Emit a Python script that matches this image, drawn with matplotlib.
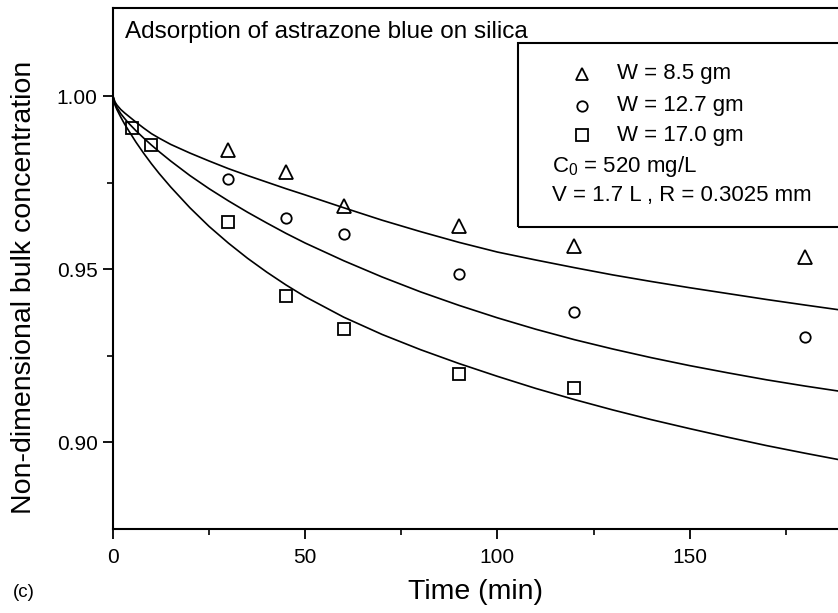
import matplotlib
matplotlib.use("Agg")
import matplotlib.pyplot as plt
from matplotlib.patches import Rectangle

plt.rcParams["font.family"] = ["Liberation Sans", "DejaVu Sans"]
plt.rcParams["mathtext.fontset"] = "custom"
plt.rcParams["mathtext.rm"] = "Liberation Sans"

# ── measured points ─────────────────────────────────────────────────────────
t_tri = [30, 45, 60, 90, 120, 180]
c_tri = [0.9844, 0.9780, 0.9682, 0.9625, 0.9568, 0.9536]

t_circ = [30, 45, 60, 90, 120, 180]
c_circ = [0.9761, 0.9648, 0.9602, 0.9487, 0.9377, 0.9305]

t_sq = [5, 10, 30, 45, 60, 90, 120]
c_sq = [0.9908, 0.9859, 0.9637, 0.9423, 0.9328, 0.9198, 0.9158]

# ── model curves ───────────────────────────────────────────────────────────
t_fit = [0, 0.5, 1, 2, 3, 4, 6, 8, 10, 12, 15, 20, 25, 30, 35, 40, 45, 50,
         60, 70, 80, 90, 100, 110, 120, 130, 140, 150, 160, 170, 180, 189]
fit_85 = [1.0, 0.9984, 0.9975, 0.9962, 0.9952, 0.9943, 0.9925, 0.9908,
          0.9892, 0.9879, 0.9861, 0.9836, 0.9813, 0.9791, 0.9771, 0.9752,
          0.9733, 0.9715, 0.9678, 0.9642, 0.9609, 0.9578, 0.9550, 0.9527,
          0.9505, 0.9484, 0.9465, 0.9447, 0.9430, 0.9413, 0.9397, 0.9383]
fit_127 = [1.0, 0.9980, 0.9968, 0.9950, 0.9936, 0.9923, 0.9900, 0.9879,
           0.9859, 0.9840, 0.9813, 0.9771, 0.9733, 0.9698, 0.9665, 0.9634,
           0.9604, 0.9576, 0.9525, 0.9478, 0.9435, 0.9396, 0.9360, 0.9327,
           0.9297, 0.9270, 0.9245, 0.9222, 0.9201, 0.9181, 0.9163, 0.9148]
fit_170 = [1.0, 0.9975, 0.9962, 0.9940, 0.9920, 0.9902, 0.9867, 0.9835,
           0.9805, 0.9777, 0.9738, 0.9678, 0.9624, 0.9576, 0.9532, 0.9492,
           0.9455, 0.9421, 0.9362, 0.9312, 0.9268, 0.9228, 0.9191, 0.9156,
           0.9124, 0.9094, 0.9066, 0.9040, 0.9015, 0.8991, 0.8969, 0.8950]

labels = ["W = 8.5 gm", "W = 12.7 gm", "W = 17.0 gm"]

fig = plt.figure(figsize=(8.38, 6.13), dpi=100)
fig.patch.set_facecolor("white")
ax = fig.add_axes([113 / 838, 0.137, 1 - 113 / 838, 0.850])

mk = dict(ls="none", mfc="none", mec="black", mew=1.3, zorder=3)
ax.plot(t_tri, c_tri, marker="^", ms=9.5, **mk)
ax.plot(t_circ, c_circ, marker="o", ms=7.5, **mk)
ax.plot(t_sq, c_sq, marker="s", ms=8.5, **mk)

for f in (fit_85, fit_127, fit_170):
    ax.plot(t_fit, f, color="black", lw=1.2, zorder=2)

ax.set_xlim(0, 188.6)
ax.set_ylim(0.875, 1.0255)
ax.set_xticks([0, 50, 100, 150])
ax.set_xticks([25, 75, 125, 175], minor=True)
ax.set_yticks([0.90, 0.95, 1.00])
ax.set_yticks([0.925, 0.975], minor=True)
ax.set_yticklabels(["0.90", "0.95", "1.00"])

for s in ax.spines.values():
    s.set_linewidth(1.5)
ax.spines["right"].set_visible(False)
ax.tick_params(which="major", length=7, width=1.3, labelsize=15, direction="out")
ax.tick_params(which="minor", length=4, width=1.2, direction="out")
ax.tick_params(axis="x", pad=7)
ax.tick_params(axis="y", pad=4)
ax.tick_params(top=False, right=False, which="both")

ax.set_xlabel("Time (min)", fontsize=20.5)
ax.xaxis.set_label_coords(0.5, -0.095)
ax.set_ylabel("Non-dimensional bulk concentration", fontsize=20.5)
ax.yaxis.set_label_coords(-0.105, 0.464)

ax.text(0.0166, 0.954, "Adsorption of astrazone blue on silica",
        transform=ax.transAxes, fontsize=17.5, va="center", ha="left")

# ── legend box ─────────────────────────────────────────────────────────────
ax.add_patch(Rectangle((0.5586, 0.5797), 0.5, 0.9328 - 0.5797,
                       transform=ax.transAxes, fill=False, lw=1.5,
                       edgecolor="black", clip_on=False, zorder=4))
rows = [0.8733, 0.8119, 0.7562]
for y, m, s, lab in zip(rows, ["^", "o", "s"], [9, 7.5, 8.5], labels):
    ax.plot([0.6469], [y], marker=m, ms=s, transform=ax.transAxes,
            clip_on=False, **mk)
    ax.text(0.6952, y, lab, transform=ax.transAxes, fontsize=16, va="center")
ax.text(0.6055, 0.6948, r"C$_0$ = 520 mg/L", transform=ax.transAxes,
        fontsize=16, va="center")
ax.text(0.6055, 0.6392, "V = 1.7 L , R = 0.3025 mm", transform=ax.transAxes,
        fontsize=16, va="center")

fig.text(0.0155, 0.034, "(c)", fontsize=13.5, va="center", ha="left")

fig.savefig("out.png", dpi=100, facecolor="white")
